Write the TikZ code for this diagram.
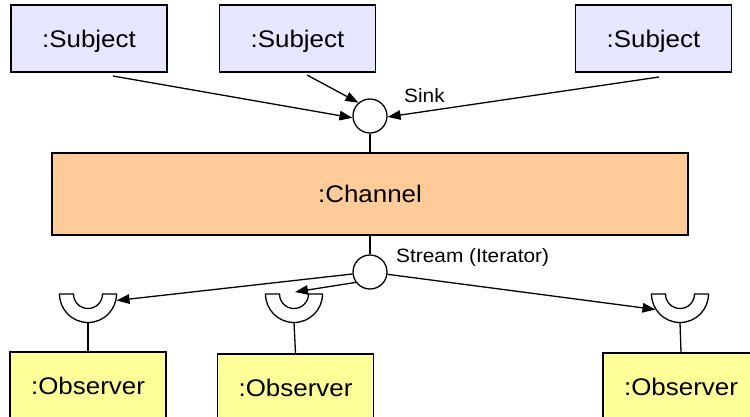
\documentclass[tikz,border=0pt]{standalone}
\usepackage{fontspec}
\setmainfont{Liberation Sans}[FakeStretch=1.08]
\usetikzlibrary{arrows.meta}
\tikzset{
  base/.style={line width=1.3pt, draw=black},
  box/.style={base, rectangle, minimum width=156pt, minimum height=67pt, inner sep=0pt,
    text depth=0pt, font=\fontsize{24}{28}\selectfont},
  subj/.style={box, fill=subjfill},
  obs/.style={box, fill=obsfill},
  chan/.style={box, fill=chanfill, minimum width=636pt, minimum height=82pt},
  port/.style={base, circle, fill=white, minimum size=34pt, inner sep=0pt},
  lbl/.style={font=\fontsize{19.3}{23}\selectfont, inner sep=0pt, anchor=base west},
  arr/.style={line width=1.3pt, -{Triangle[length=13pt,width=9.5pt]}},
  conn/.style={line width=1.3pt},
  sock/.style={base, fill=white}
}
\definecolor{subjfill}{HTML}{E6E6FF}
\definecolor{obsfill}{HTML}{FFFF99}
\definecolor{chanfill}{HTML}{FFCC99}
\begin{document}
\begin{tikzpicture}[x=1pt,y=-1pt]
\useasboundingbox (0,0) rectangle (750,416);
\clip (0,0) rectangle (750,416);
% subjects
\node[subj] (s1) at (89,38.5) {:Subject};
\node[subj] (s2) at (297.5,38.5) {:Subject};
\node[subj] (s3) at (653.5,38.5) {:Subject};
% channel and ports
\node[chan] (ch) at (370,194) {:Channel};
\node[port] (sink) at (370,116) {};
\node[port] (stream) at (370,272) {};
\node[lbl] (sinklbl) at (404,102) {Sink};
\node[lbl] (streamlbl) at (396,262) {Stream (Iterator)};
\draw[conn] (sink) -- (ch);
\draw[conn] (ch) -- (stream);
% subject arrows
\coordinate (a1) at (113,76);
\coordinate (a2) at (307,75);
\coordinate (a3) at (659,77);
\draw[arr] (a1) -- (sink.186);
\draw[arr] (a2) -- (sink.131);
\draw[arr] (a3) -- (sink.357);
% observers
\node[obs] (o1) at (88,385.5) {:Observer};
\node[obs] (o2) at (295.5,387.5) {:Observer};
\node[obs] (o3) at (681,386.5) {:Observer};
% sockets
\foreach \n/\x in {1/88,2/294,3/680}{
  \coordinate (k\n) at (\x,294);
  \coordinate (k\n b) at (\x,322.5);
  \draw[sock] (\x-28.5,294) arc[start angle=180,end angle=360,radius=28.5pt]
    -- (\x+14.5,294) arc[start angle=0,end angle=-180,radius=14.5pt] -- cycle;
}
\draw[conn] (k1b) -- (o1.north);
\draw[conn] (k2b) -- (o2.north);
\draw[conn] (k3b) -- (o3.north);
% stream arrows
\coordinate (t1) at (116.5,300.5);
\coordinate (t2) at (295,292);
\coordinate (t3) at (655.5,309.5);
\draw[arr] (stream) -- (t1);
\draw[arr] (stream.216) -- (t2);
\draw[arr] (stream) -- (t3);
\end{tikzpicture}
\end{document}
